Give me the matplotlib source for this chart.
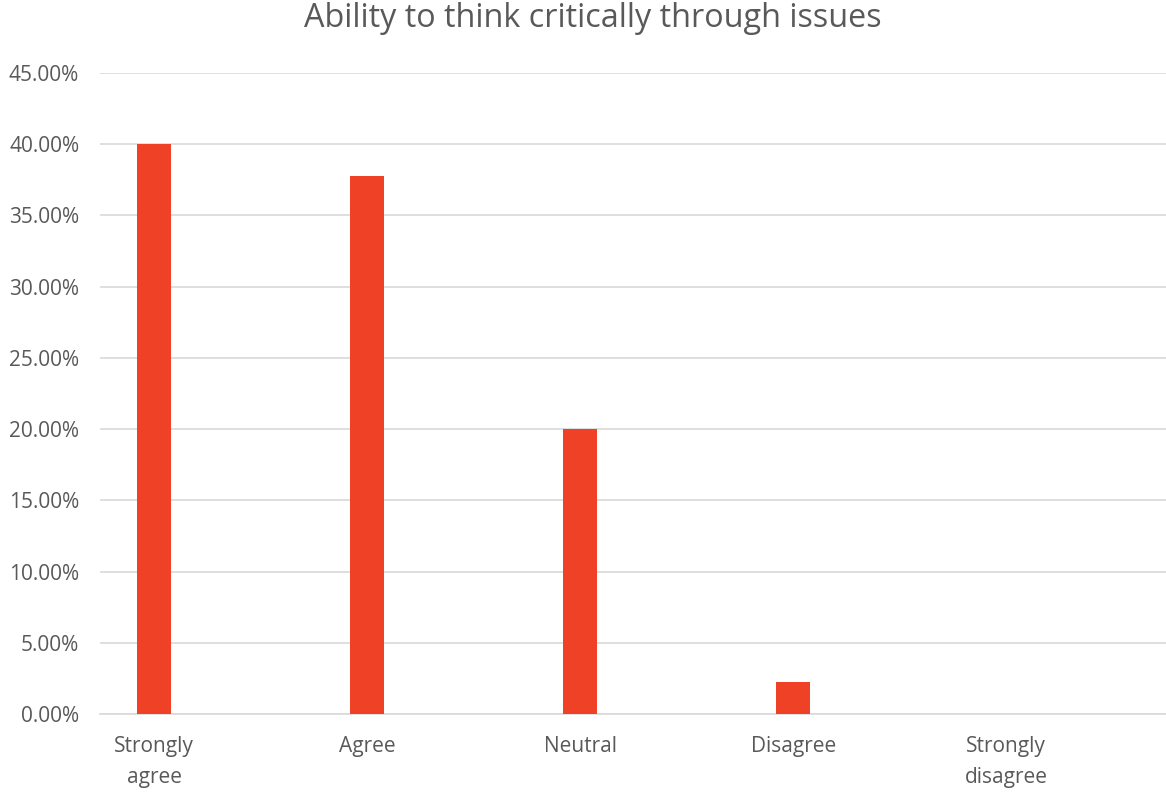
import matplotlib
matplotlib.use("Agg")
import matplotlib.pyplot as plt
from matplotlib.ticker import FuncFormatter, MultipleLocator

categories = ["Strongly\nagree", "Agree", "Neutral", "Disagree", "Strongly\ndisagree"]
shares = [40.00, 37.78, 20.00, 2.22, 0.00]

plt.rcParams["font.family"] = ["Open Sans", "DejaVu Sans"]
text_color = "#595959"

fig = plt.figure(figsize=(11.66, 7.92), dpi=100)
ax = fig.add_axes([100 / 1166, 1 - 714 / 792, 1066 / 1166, (714 - 73) / 792])

x = list(range(len(categories)))
ax.bar(x, shares, width=0.16, color="#EF4125", zorder=3)

ax.set_xlim(-0.254, 4.75)
ax.set_ylim(0, 45)
ax.yaxis.set_major_locator(MultipleLocator(5))
ax.yaxis.set_major_formatter(FuncFormatter(lambda v, _: f"{v:.2f}%"))
ax.grid(axis="y", color="#D9D9D9", linewidth=1.2, zorder=0)
ax.set_axisbelow(True)

for side in ("top", "right", "left"):
    ax.spines[side].set_visible(False)
ax.spines["bottom"].set_color("#D9D9D9")
ax.spines["bottom"].set_linewidth(1.2)

ax.set_xticks(x)
ax.set_xticklabels(categories, linespacing=1.6)
ax.tick_params(axis="both", length=0, colors=text_color, labelsize=15)
ax.tick_params(axis="x", pad=16)
ax.tick_params(axis="y", pad=15)

fig.text(0.508, 0.977, "Ability to think critically through issues",
         ha="center", va="center", fontsize=23.3, color=text_color)

fig.savefig("out.png", dpi=100, facecolor="white")
